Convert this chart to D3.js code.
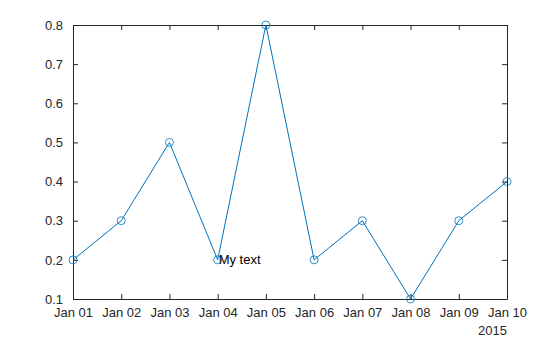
<!DOCTYPE html>
<meta charset="utf-8">
<style>
body { margin: 0; background: #fff; }
svg text { font-family: "Liberation Sans", Arial, sans-serif; font-size: 13px; fill: #262626; }
.axis path, .axis line { stroke: #262626; }
</style>
<body>
<script src="https://d3js.org/d3.v7.min.js"></script>
<script>

const width = 560;
const height = 337;

const days = ["2015-01-01", "2015-01-02", "2015-01-03", "2015-01-04", "2015-01-05",
              "2015-01-06", "2015-01-07", "2015-01-08", "2015-01-09", "2015-01-10"];
const values = [0.2, 0.3, 0.5, 0.2, 0.8, 0.2, 0.3, 0.1, 0.3, 0.4];
const yTicks = [0.1, 0.2, 0.3, 0.4, 0.5, 0.6, 0.7, 0.8];
const yearLabel = "2015";
const note = { day: "2015-01-04", value: 0.2, label: "My text" };

const parse = d3.utcParse("%Y-%m-%d");
const dates = days.map(parse);

const margin = {top: 25, right: 53, bottom: 38, left: 73};

const x = d3.scaleUtc()
    .domain(d3.extent(dates))
    .range([margin.left, width - margin.right]);

const y = d3.scaleLinear()
    .domain([0.1, 0.8])
    .range([height - margin.bottom, margin.top]);

const svg = d3.select("body").append("svg")
    .attr("width", width)
    .attr("height", height);

const fmt = d3.utcFormat("%b %d");

// ticks inside, on all four sides
svg.append("g")
    .attr("class", "axis")
    .attr("transform", `translate(0,${height - margin.bottom})`)
    .call(d3.axisBottom(x).tickValues(dates).tickFormat(fmt).tickSizeInner(-5).tickSizeOuter(0).tickPadding(9))
    .call(g => g.selectAll("text").attr("dy", "0.71em"));

svg.append("g")
    .attr("class", "axis")
    .attr("transform", `translate(0,${margin.top})`)
    .call(d3.axisTop(x).tickValues(dates).tickFormat("").tickSizeInner(-5).tickSizeOuter(0));

svg.append("g")
    .attr("class", "axis")
    .attr("transform", `translate(${margin.left},0)`)
    .call(d3.axisLeft(y).tickValues(yTicks).tickFormat(d3.format(".1f")).tickSizeInner(-5).tickSizeOuter(0).tickPadding(10));

svg.append("g")
    .attr("class", "axis")
    .attr("transform", `translate(${width - margin.right},0)`)
    .call(d3.axisRight(y).tickValues(yTicks).tickFormat("").tickSizeInner(-5).tickSizeOuter(0));

svg.append("text")
    .attr("x", width - margin.right)
    .attr("y", height - 2)
    .attr("text-anchor", "end")
    .text(yearLabel);

const line = d3.line()
    .x((d, i) => x(dates[i]))
    .y(d => y(d));

svg.append("path")
    .datum(values)
    .attr("fill", "none")
    .attr("stroke", "#0072BD")
    .attr("stroke-width", 1)
    .attr("d", line);

svg.selectAll(".dot")
    .data(values)
    .join("circle")
    .attr("class", "dot")
    .attr("cx", (d, i) => x(dates[i]))
    .attr("cy", d => y(d))
    .attr("r", 4)
    .attr("fill", "none")
    .attr("stroke", "#0072BD")
    .attr("stroke-width", 0.8);

svg.append("text")
    .attr("x", x(parse(note.day)) + 1)
    .attr("y", y(note.value))
    .attr("dy", "0.35em")
    .style("fill", "#000")
    .text(note.label);

</script>
</body>
